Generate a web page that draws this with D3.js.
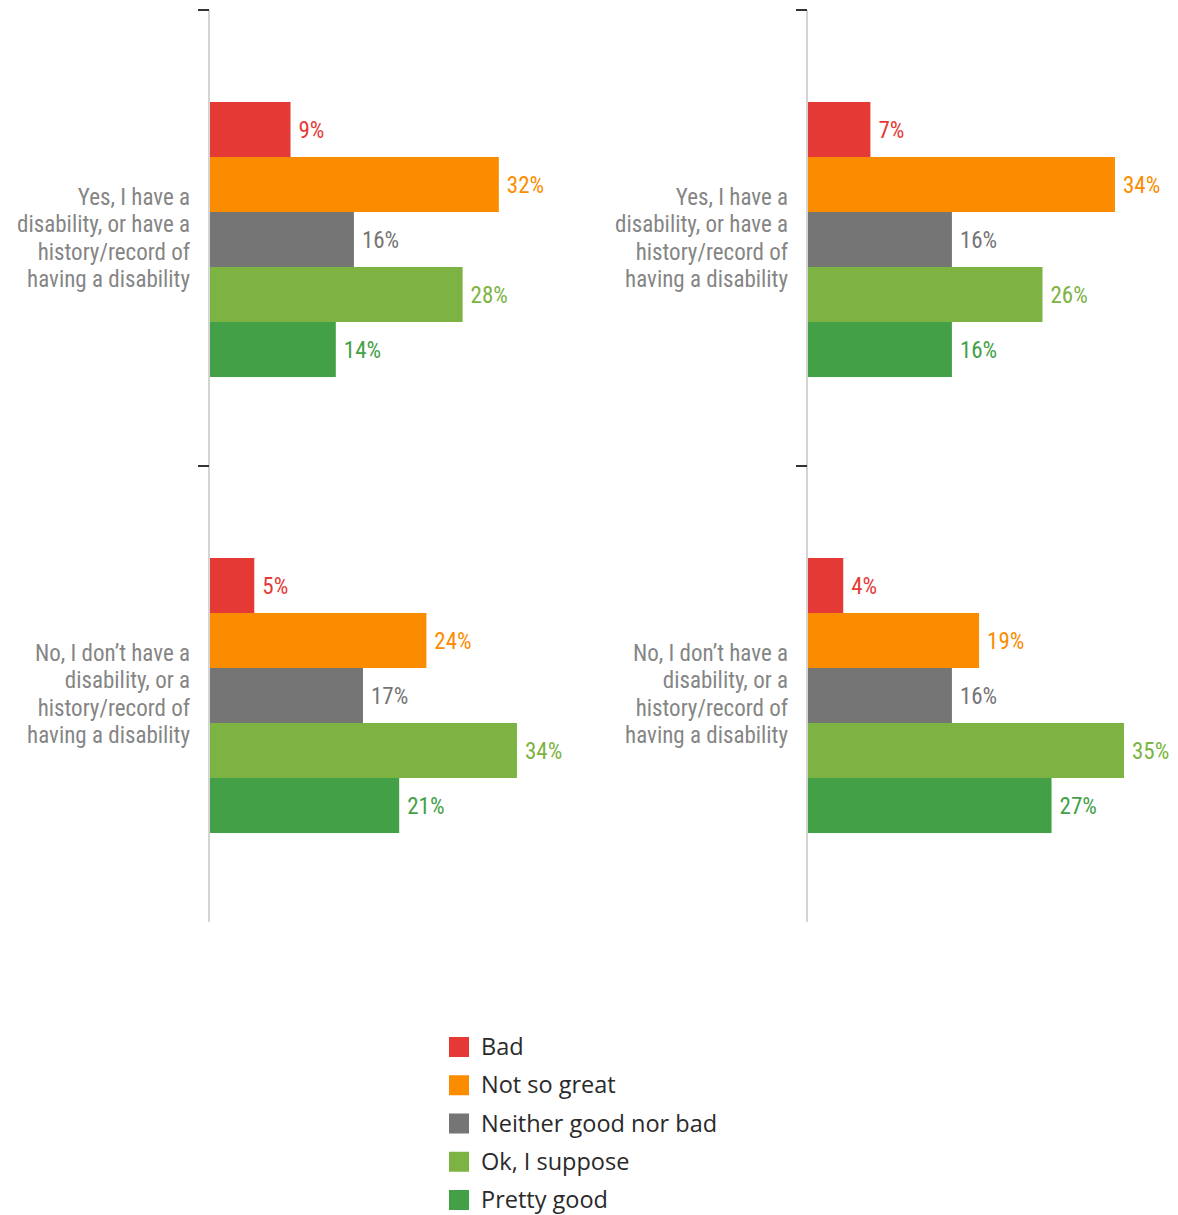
<!DOCTYPE html>
<html>
<head>
<meta charset="utf-8">
<script src="https://cdn.jsdelivr.net/npm/d3@7/dist/d3.min.js"></script>
<style>
  html, body { margin: 0; padding: 0; background: #fff; }
  svg { display: block; }
</style>
</head>
<body>
<svg id="chart" width="1178" height="1215"></svg>
<script>
// ---- data ----
const groups = ["yes", "no"];
const groupLabels = [
  ["Yes, I have a", "disability, or have a", "history/record of", "having a disability"],
  ["No, I don\u2019t have a", "disability, or a", "history/record of", "having a disability"]
];
const series = ["Bad", "Not so great", "Neither good nor bad", "Ok, I suppose", "Pretty good"];
const seriesColors = ["#e53935", "#fb8c00", "#757575", "#7cb342", "#43a047"];

const leftYes  = [9, 32, 16, 28, 14];
const leftNo   = [5, 24, 17, 34, 21];
const rightYes = [7, 34, 16, 26, 16];
const rightNo  = [4, 19, 16, 35, 27];

const panels = [
  { axisX: 209, values: [leftYes, leftNo] },
  { axisX: 807, values: [rightYes, rightNo] }
];

// ---- layout ----
const svg = d3.select("#chart");
const labelFont = "'Liberation Sans Narrow', 'Roboto Condensed', 'Roboto', sans-serif";

const y = d3.scaleBand().domain(groups).range([10, 922]).padding(0);
const ySub = d3.scaleBand().domain(series).range([1.5, y.bandwidth() + 1.5]).paddingInner(0).paddingOuter(1.645);
const x = d3.scaleLinear().domain([0, 35]).range([0, 317]);
const color = d3.scaleOrdinal().domain(series).range(seriesColors);

panels.forEach(p => {
  const g = svg.append("g").attr("transform", `translate(${p.axisX},0)`);

  groups.forEach((grp, gi) => {
    const gg = g.append("g").attr("transform", `translate(0,${y(grp)})`);
    const vals = p.values[gi];
    gg.selectAll("rect").data(series).join("rect")
      .attr("x", 0)
      .attr("y", s => ySub(s))
      .attr("width", (s, i) => x(vals[i]))
      .attr("height", ySub.bandwidth())
      .attr("fill", s => color(s));
    gg.selectAll("text.val").data(series).join("text")
      .attr("class", "val")
      .attr("x", (s, i) => x(vals[i]) + 8)
      .attr("y", s => ySub(s) + ySub.bandwidth() / 2)
      .attr("dy", "0.35em")
      .attr("fill", s => color(s))
      .style("font-family", labelFont)
      .style("font-size", "23px")
      .text((s, i) => vals[i] + "%");

    // category label
    const lines = groupLabels[gi];
    const cy = y.bandwidth() / 2;
    const lh = 27.3;
    const t = gg.append("text")
      .attr("text-anchor", "end")
      .attr("fill", "#858585")
      .style("font-family", labelFont)
      .style("font-size", "23px");
    lines.forEach((ln, li) => {
      t.append("tspan")
        .attr("x", -19)
        .attr("y", cy + (li - (lines.length - 1) / 2) * lh)
        .attr("dy", "0.35em")
        .text(ln);
    });
  });

  // axis line
  g.append("line")
    .attr("x1", 0).attr("x2", 0)
    .attr("y1", y.range()[0]).attr("y2", y.range()[1])
    .attr("stroke", "#d4d4d4").attr("stroke-width", 2);
  // ticks at band boundaries
  g.selectAll("line.tick").data(groups).join("line")
    .attr("class", "tick")
    .attr("x1", -11).attr("x2", 0)
    .attr("y1", d => y(d)).attr("y2", d => y(d))
    .attr("stroke", "#333").attr("stroke-width", 2);
});

// ---- legend ----
const legend = svg.append("g").attr("transform", "translate(449,1047)");
const ly = d3.scalePoint().domain(series).range([0, 153]);
const li = legend.selectAll("g").data(series).join("g")
  .attr("transform", s => `translate(0,${ly(s)})`);
li.append("rect")
  .attr("x", 0).attr("y", -10).attr("width", 20).attr("height", 20)
  .attr("fill", s => color(s));
li.append("text")
  .attr("x", 32).attr("y", 0).attr("dy", "0.35em")
  .attr("fill", "#2a2a2a")
  .style("font-family", "'Open Sans', sans-serif")
  .style("font-size", "23.5px")
  .text(s => s);
</script>
</body>
</html>
